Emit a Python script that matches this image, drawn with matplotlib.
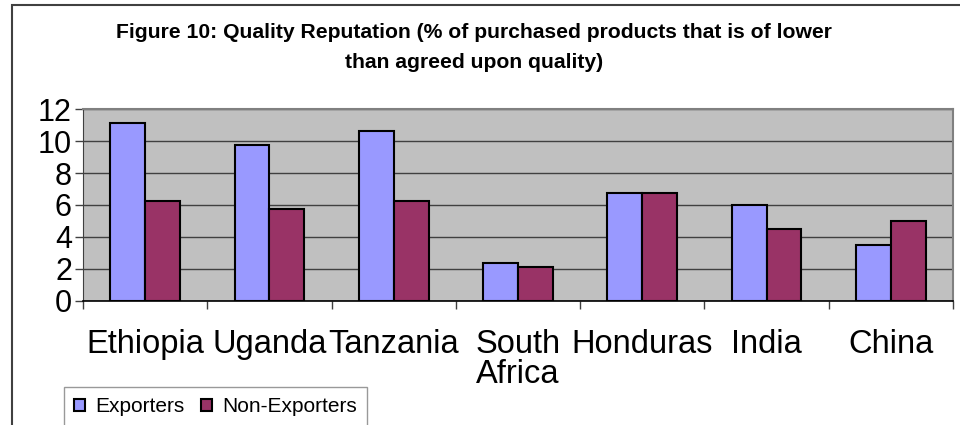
import numpy as np
import matplotlib.pyplot as plt
from matplotlib.patches import Rectangle

plt.rcParams['font.family'] = ['Liberation Sans', 'DejaVu Sans']

countries = ['Ethiopia', 'Uganda', 'Tanzania', 'South\nAfrica', 'Honduras', 'India', 'China']
exporters = [11.1, 9.75, 10.6, 2.35, 6.75, 6.0, 3.5]
non_exporters = [6.25, 5.75, 6.25, 2.1, 6.75, 4.5, 5.0]

fig = plt.figure(figsize=(9.6, 4.25), dpi=100)
ax = fig.add_axes([0.0865, 0.2918, 0.9062, 0.4517])

x = np.arange(len(countries))
w = 0.28
ax.bar(x - w / 2, exporters, w, color='#9999FF', edgecolor='black', linewidth=1.5,
       label='Exporters', zorder=3)
ax.bar(x + w / 2, non_exporters, w, color='#993366', edgecolor='black', linewidth=1.5,
       label='Non-Exporters', zorder=3)

ax.set_facecolor('#C0C0C0')
ax.set_xlim(-0.5, len(countries) - 0.5)
ax.set_ylim(0, 12)
ax.set_yticks(range(0, 13, 2))
ax.tick_params(axis='y', labelsize=22, length=6, width=1, color='#404040', pad=2)
ax.yaxis.grid(True, color='#404040', linewidth=1, zorder=1)

# ticks between categories, labels at the centres
ax.set_xticks(np.arange(-0.5, len(countries), 1))
ax.set_xticklabels([])
ax.set_xticks(x, minor=True)
ax.set_xticklabels(countries, minor=True, fontsize=23.5, linespacing=0.95)
ax.tick_params(axis='x', which='major', length=6, width=1, color='#404040')
ax.tick_params(axis='x', which='minor', length=0, pad=20)

for s in ['top', 'right']:
    ax.spines[s].set_color('#808080')
    ax.spines[s].set_linewidth(1.5)
ax.spines['left'].set_color('#404040')
ax.spines['bottom'].set_color('black')
ax.spines['bottom'].set_linewidth(1.2)

fig.text(0.494, 0.888, 'Figure 10: Quality Reputation (% of purchased products that is of lower\n'
         'than agreed upon quality)', ha='center', va='center', fontsize=15.2,
         fontweight='bold', linespacing=1.7)

# outer chart frame
fig.patches.append(Rectangle((12 / 960, -0.1), 1.1, 1 - 5 / 425 + 0.1, transform=fig.transFigure,
                             fill=False, edgecolor='#404040', linewidth=1.5))

leg = fig.legend(loc='upper left', bbox_to_anchor=(64 / 960, 1 - 387 / 425), ncol=2,
                 fontsize=15, frameon=True, fancybox=False, edgecolor='#808080',
                 handlelength=0.5, handleheight=0.5, handletextpad=0.5, columnspacing=0.8,
                 borderpad=0.5, borderaxespad=0)
leg.get_frame().set_linewidth(1)

fig.savefig('out.png', dpi=100)
